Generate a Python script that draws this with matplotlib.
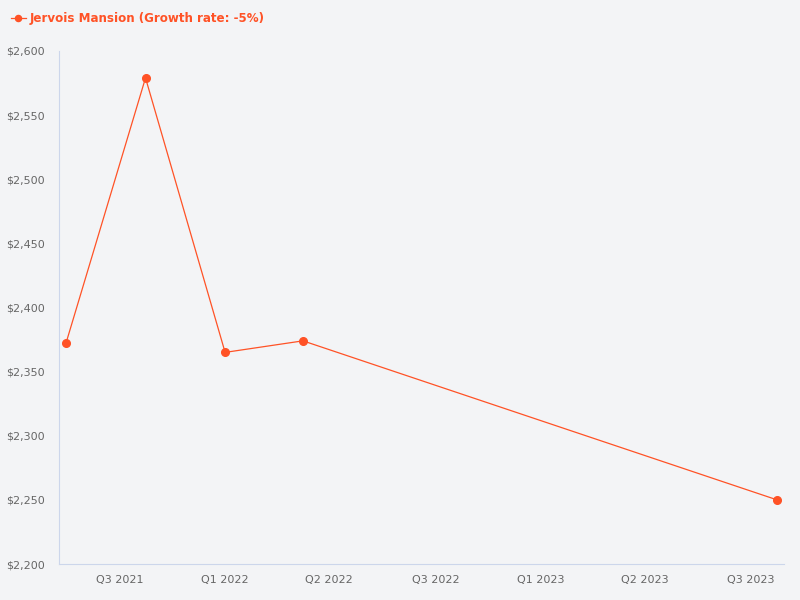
import datetime as dt
import matplotlib
matplotlib.use('Agg')
import matplotlib.pyplot as plt
import matplotlib.dates as mdates
from matplotlib.ticker import FuncFormatter

# data
dates = [dt.date(2021, 7, 1), dt.date(2021, 10, 1), dt.date(2022, 1, 1),
         dt.date(2022, 4, 1), dt.date(2023, 10, 1)]
rent = [2372, 2579, 2365, 2374, 2250]
series_name = 'Jervois Mansion (Growth rate: -5%)'

bg = '#f3f4f6'
col = '#ff5226'
txt = '#666666'
axcol = '#ccd6eb'

fig = plt.figure(figsize=(8, 6), dpi=100, facecolor=bg)
ax = fig.add_axes([59/800, 36/600, 725/800, 513/600], facecolor=bg)

ax.plot(dates, rent, color=col, lw=0.9, marker='o', ms=5.5, label=series_name)

ax.set_xlim(mdates.date2num(dt.date(2021, 6, 23)), mdates.date2num(dt.date(2023, 10, 9)))
ax.set_ylim(2200, 2600)
ax.set_yticks(range(2200, 2601, 50))
ax.yaxis.set_major_formatter(FuncFormatter(lambda v, p: f'${v:,.0f}'))

ax.xaxis.set_major_locator(mdates.MonthLocator(bymonth=[1, 5, 9]))
def qfmt(v, p):
    d = mdates.num2date(v)
    return f'Q{(d.month - 1)//3 + 1} {d.year}'
ax.xaxis.set_major_formatter(FuncFormatter(qfmt))

for s in ['top', 'right']:
    ax.spines[s].set_visible(False)
ax.spines['left'].set_color(axcol)
ax.spines['bottom'].set_color(axcol)
ax.tick_params(length=0, labelsize=8, colors=txt, pad=8)
ax.tick_params(axis='y', pad=10)

leg = fig.legend(loc='upper left', bbox_to_anchor=(0.0, 0.998), frameon=False,
                 handlelength=1.25, handletextpad=0.35, markerscale=0.8,
                 prop={'weight': 'bold', 'size': 8.6})
for t in leg.get_texts():
    t.set_color(col)

fig.savefig('out.png', dpi=100, facecolor=bg)
